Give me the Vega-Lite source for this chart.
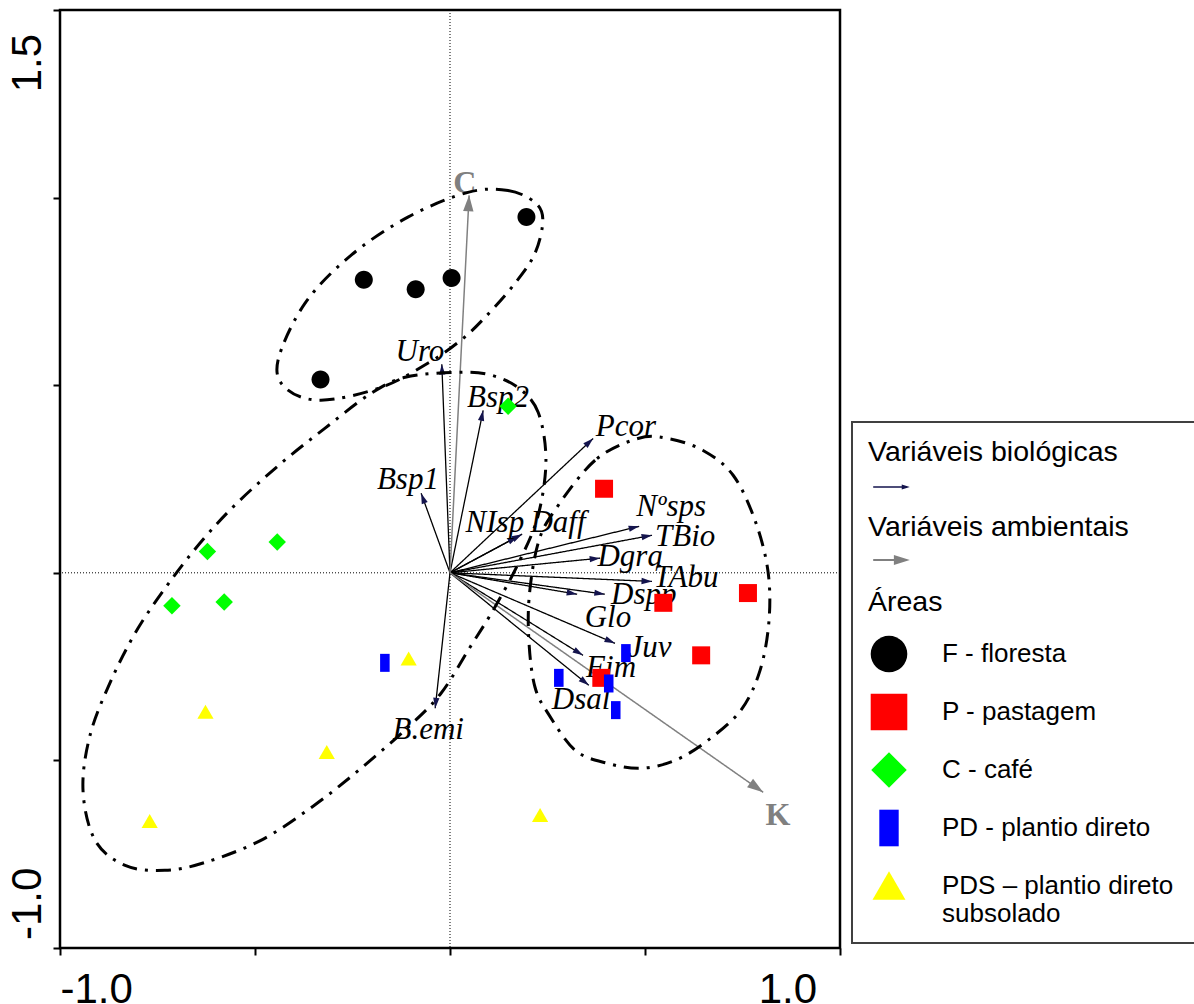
{
  "$schema": "https://vega.github.io/schema/vega-lite/v6.json",
  "width": 780,
  "height": 938,
  "autosize": {"type": "none"},
  "padding": {"left": 60, "top": 10, "right": 354, "bottom": 56},
  "background": "#ffffff",
  "config": {
    "view": {"stroke": "#000000", "strokeWidth": 2.5},
    "legend": {"strokeWidth": 2}
  },
  "resolve": {"scale": {"strokeDash": "independent"}, "legend": {"strokeDash": "independent"}},
  "datasets": {
    "areas": [
      {"area": "F - floresta", "x": 0.196, "y": 0.948},
      {"area": "F - floresta", "x": -0.221, "y": 0.781},
      {"area": "F - floresta", "x": -0.088, "y": 0.756},
      {"area": "F - floresta", "x": 0.004, "y": 0.786},
      {"area": "F - floresta", "x": -0.332, "y": 0.515},
      {"area": "P - pastagem", "x": 0.395, "y": 0.224},
      {"area": "P - pastagem", "x": 0.547, "y": -0.080},
      {"area": "P - pastagem", "x": 0.764, "y": -0.054},
      {"area": "P - pastagem", "x": 0.644, "y": -0.220},
      {"area": "P - pastagem", "x": 0.388, "y": -0.280},
      {"area": "C - café", "x": -0.622, "y": 0.057},
      {"area": "C - café", "x": -0.443, "y": 0.082},
      {"area": "C - café", "x": -0.713, "y": -0.088},
      {"area": "C - café", "x": -0.579, "y": -0.078},
      {"area": "C - café", "x": 0.149, "y": 0.444},
      {"area": "PD - plantio direto", "x": 0.451, "y": -0.214},
      {"area": "PD - plantio direto", "x": 0.279, "y": -0.280},
      {"area": "PD - plantio direto", "x": 0.407, "y": -0.295},
      {"area": "PD - plantio direto", "x": 0.425, "y": -0.366},
      {"area": "PD - plantio direto", "x": -0.167, "y": -0.240},
      {"area": "PDS – plantio direto subsolado", "x": -0.106, "y": -0.229},
      {"area": "PDS – plantio direto subsolado", "x": -0.627, "y": -0.371},
      {"area": "PDS – plantio direto subsolado", "x": -0.316, "y": -0.478},
      {"area": "PDS – plantio direto subsolado", "x": -0.770, "y": -0.662},
      {"area": "PDS – plantio direto subsolado", "x": 0.231, "y": -0.646}
    ],
    "bio": [
      {"name": "Uro", "x": -0.021, "y": 0.556, "lx": -0.077, "ly": 0.588},
      {"name": "Bsp2", "x": 0.085, "y": 0.433, "lx": 0.123, "ly": 0.465},
      {"name": "Bsp1", "x": -0.074, "y": 0.212, "lx": -0.108, "ly": 0.247},
      {"name": "NIsp", "x": 0.174, "y": 0.097, "lx": 0.115, "ly": 0.132},
      {"name": "Daff", "x": 0.185, "y": 0.103, "lx": 0.277, "ly": 0.132},
      {"name": "Pcor", "x": 0.367, "y": 0.358, "lx": 0.451, "ly": 0.388},
      {"name": "Nºsps", "x": 0.485, "y": 0.124, "lx": 0.567, "ly": 0.175},
      {"name": "TBio", "x": 0.518, "y": 0.100, "lx": 0.603, "ly": 0.095},
      {"name": "Dgra", "x": 0.385, "y": 0.039, "lx": 0.462, "ly": 0.041},
      {"name": "TAbu", "x": 0.518, "y": -0.023, "lx": 0.605, "ly": -0.015},
      {"name": "Dspp", "x": 0.397, "y": -0.057, "lx": 0.497, "ly": -0.060},
      {"name": "Glo", "x": 0.326, "y": -0.057, "lx": 0.405, "ly": -0.121},
      {"name": "Juv", "x": 0.423, "y": -0.188, "lx": 0.513, "ly": -0.201},
      {"name": "Fim", "x": 0.341, "y": -0.220, "lx": 0.413, "ly": -0.255},
      {"name": "Dsal", "x": 0.356, "y": -0.300, "lx": 0.336, "ly": -0.340},
      {"name": "B.emi", "x": -0.038, "y": -0.361, "lx": -0.056, "ly": -0.420}
    ],
    "amb": [
      {"name": "C", "x": 0.049, "y": 1.006, "lx": 0.038, "ly": 1.038},
      {"name": "K", "x": 0.803, "y": -0.585, "lx": 0.841, "ly": -0.646}
    ],
    "ellipses": [
      {"g": "F", "i": 1, "x": 0.046, "y": 1.014},
      {"g": "F", "i": 2, "x": 0.149, "y": 1.019},
      {"g": "F", "i": 3, "x": 0.218, "y": 0.987},
      {"g": "F", "i": 4, "x": 0.238, "y": 0.940},
      {"g": "F", "i": 5, "x": 0.218, "y": 0.852},
      {"g": "F", "i": 6, "x": 0.167, "y": 0.772},
      {"g": "F", "i": 7, "x": 0.090, "y": 0.681},
      {"g": "F", "i": 8, "x": 0.028, "y": 0.620},
      {"g": "F", "i": 9, "x": -0.056, "y": 0.559},
      {"g": "F", "i": 10, "x": -0.177, "y": 0.494},
      {"g": "F", "i": 11, "x": -0.331, "y": 0.460},
      {"g": "F", "i": 12, "x": -0.421, "y": 0.492},
      {"g": "F", "i": 13, "x": -0.441, "y": 0.566},
      {"g": "F", "i": 14, "x": -0.372, "y": 0.718},
      {"g": "F", "i": 15, "x": -0.254, "y": 0.846},
      {"g": "F", "i": 16, "x": -0.108, "y": 0.948},
      {"g": "C", "i": 1, "x": 0.246, "y": 0.300},
      {"g": "C", "i": 2, "x": 0.226, "y": 0.428},
      {"g": "C", "i": 3, "x": 0.174, "y": 0.494},
      {"g": "C", "i": 4, "x": 0.097, "y": 0.529},
      {"g": "C", "i": 5, "x": 0.008, "y": 0.534},
      {"g": "C", "i": 6, "x": -0.115, "y": 0.521},
      {"g": "C", "i": 7, "x": -0.203, "y": 0.478},
      {"g": "C", "i": 8, "x": -0.321, "y": 0.385},
      {"g": "C", "i": 9, "x": -0.433, "y": 0.292},
      {"g": "C", "i": 10, "x": -0.544, "y": 0.188},
      {"g": "C", "i": 11, "x": -0.628, "y": 0.095},
      {"g": "C", "i": 12, "x": -0.710, "y": -0.012},
      {"g": "C", "i": 13, "x": -0.800, "y": -0.148},
      {"g": "C", "i": 14, "x": -0.869, "y": -0.287},
      {"g": "C", "i": 15, "x": -0.923, "y": -0.433},
      {"g": "C", "i": 16, "x": -0.941, "y": -0.580},
      {"g": "C", "i": 17, "x": -0.910, "y": -0.713},
      {"g": "C", "i": 18, "x": -0.833, "y": -0.780},
      {"g": "C", "i": 19, "x": -0.731, "y": -0.793},
      {"g": "C", "i": 20, "x": -0.628, "y": -0.772},
      {"g": "C", "i": 21, "x": -0.485, "y": -0.713},
      {"g": "C", "i": 22, "x": -0.351, "y": -0.622},
      {"g": "C", "i": 23, "x": -0.228, "y": -0.521},
      {"g": "C", "i": 24, "x": -0.108, "y": -0.412},
      {"g": "C", "i": 25, "x": -0.023, "y": -0.321},
      {"g": "C", "i": 26, "x": 0.051, "y": -0.199},
      {"g": "C", "i": 27, "x": 0.115, "y": -0.092},
      {"g": "C", "i": 28, "x": 0.179, "y": 0.033},
      {"g": "C", "i": 29, "x": 0.226, "y": 0.153},
      {"g": "P", "i": 1, "x": 0.482, "y": 0.358},
      {"g": "P", "i": 2, "x": 0.372, "y": 0.300},
      {"g": "P", "i": 3, "x": 0.269, "y": 0.167},
      {"g": "P", "i": 4, "x": 0.226, "y": 0.079},
      {"g": "P", "i": 5, "x": 0.203, "y": -0.065},
      {"g": "P", "i": 6, "x": 0.203, "y": -0.193},
      {"g": "P", "i": 7, "x": 0.218, "y": -0.305},
      {"g": "P", "i": 8, "x": 0.251, "y": -0.374},
      {"g": "P", "i": 9, "x": 0.321, "y": -0.473},
      {"g": "P", "i": 10, "x": 0.405, "y": -0.508},
      {"g": "P", "i": 11, "x": 0.490, "y": -0.521},
      {"g": "P", "i": 12, "x": 0.577, "y": -0.500},
      {"g": "P", "i": 13, "x": 0.662, "y": -0.446},
      {"g": "P", "i": 14, "x": 0.746, "y": -0.366},
      {"g": "P", "i": 15, "x": 0.795, "y": -0.260},
      {"g": "P", "i": 16, "x": 0.818, "y": -0.127},
      {"g": "P", "i": 17, "x": 0.815, "y": 0.007},
      {"g": "P", "i": 18, "x": 0.782, "y": 0.140},
      {"g": "P", "i": 19, "x": 0.726, "y": 0.260},
      {"g": "P", "i": 20, "x": 0.649, "y": 0.326},
      {"g": "P", "i": 21, "x": 0.559, "y": 0.358}
    ]
  },
  "layer": [
    {
      "data": {"values": [{"v": 0}]},
      "mark": {"type": "rule", "color": "#000000", "strokeWidth": 1, "strokeDash": [1, 2]},
      "encoding": {
        "x": {
          "field": "v", "type": "quantitative", "title": null,
          "scale": {"domain": [-1, 1], "nice": false, "zero": false},
          "axis": {
            "values": [-1, -0.5, 0, 0.5, 1],
            "domain": false, "grid": false,
            "ticks": true, "tickColor": "#000000", "tickWidth": 2, "tickSize": 7,
            "labelExpr": "datum.value == -1 ? '-1.0' : datum.value == 1 ? '1.0\u00a0\u00a0\u200b' : ''",
            "labelFont": "Liberation Sans", "labelFontSize": 42, "labelColor": "#000000",
            "labelPadding": 14, "labelAngle": 0, "labelBaseline": "top",
            "labelAlign": {"condition": {"test": "datum.value < 0", "value": "left"}, "value": "right"},
            "labelFlush": false, "labelOverlap": false, "labelBound": false
          }
        }
      }
    },
    {
      "data": {"values": [{"v": 0}]},
      "mark": {"type": "rule", "color": "#000000", "strokeWidth": 1, "strokeDash": [1, 2]},
      "encoding": {
        "y": {
          "field": "v", "type": "quantitative", "title": null,
          "scale": {"domain": [-1, 1.5], "nice": false, "zero": false},
          "axis": {
            "values": [-1, -0.5, 0, 0.5, 1, 1.5],
            "domain": false, "grid": false,
            "ticks": true, "tickColor": "#000000", "tickWidth": 2, "tickSize": 7,
            "labelExpr": "datum.value == 1.5 ? '1.5\u00a0\u00a0\u200b' : datum.value == -1 ? '\u200b\u2009-1.0' : ''",
            "labelFont": "Liberation Sans", "labelFontSize": 42, "labelColor": "#000000",
            "labelPadding": 13, "labelAngle": -90, "labelBaseline": "alphabetic",
            "labelAlign": {"condition": {"test": "datum.value > 0", "value": "right"}, "value": "left"},
            "labelFlush": false, "labelOverlap": false, "labelBound": false
          }
        }
      }
    },
    {
      "data": {"name": "bio"},
      "mark": {"type": "rule", "color": "#000000", "fill": "#14144d", "strokeWidth": 1.3},
      "encoding": {
        "x": {"field": "x", "type": "quantitative", "title": null, "scale": {"domain": [-1, 1], "nice": false, "zero": false}},
        "y": {"field": "y", "type": "quantitative", "title": null, "scale": {"domain": [-1, 1.5], "nice": false, "zero": false}},
        "x2": {"datum": 0},
        "y2": {"datum": 0},
        "strokeDash": {
          "datum": "bio", "type": "nominal",
          "scale": {"domain": ["bio"], "range": [[1, 0]]},
          "legend": {
            "title": null, "orient": "none", "legendX": 812.5, "legendY": 458, "padding": 0,
            "symbolType": "M-1,-0.04L0.56,-0.04L0.56,-0.14L1,0L0.56,0.14L0.56,0.04L-1,0.04Z",
            "symbolSize": 1340, "symbolOffset": 0, "symbolFillColor": "#14144d", "symbolStrokeColor": "#000000", "symbolStrokeWidth": 1,
            "labelExpr": "''", "labelOffset": 0
          }
        }
      }
    },
    {
      "data": {"name": "amb"},
      "mark": {"type": "rule", "color": "#808080", "fill": "#808080", "strokeWidth": 1.5},
      "encoding": {
        "x": {"field": "x", "type": "quantitative", "title": null, "scale": {"domain": [-1, 1], "nice": false, "zero": false}},
        "y": {"field": "y", "type": "quantitative", "title": null, "scale": {"domain": [-1, 1.5], "nice": false, "zero": false}},
        "x2": {"datum": 0},
        "y2": {"datum": 0},
        "strokeDash": {
          "datum": "amb", "type": "nominal",
          "scale": {"domain": ["amb"], "range": [[1, 0]]},
          "legend": {
            "title": null, "orient": "none", "legendX": 812.5, "legendY": 531, "padding": 0,
            "symbolType": "M-1,-0.055L0.13,-0.055L0.13,-0.27L1,0L0.13,0.27L0.13,0.055L-1,0.055Z",
            "symbolSize": 1340, "symbolOffset": 0, "symbolFillColor": "#808080", "symbolStrokeColor": "#808080", "symbolStrokeWidth": 1,
            "labelExpr": "''", "labelOffset": 0
          }
        }
      }
    },
    {
      "data": {"name": "bio"},
      "transform": [{"calculate": "atan2(-datum.y * 375.2, datum.x * 390) * 180 / PI", "as": "ang"}],
      "mark": {"type": "point", "shape": "M0,0L-2,-0.6L-2,0.6Z", "filled": true, "color": "#14144d", "size": 110, "opacity": 1},
      "encoding": {
        "x": {"field": "x", "type": "quantitative", "title": null, "scale": {"domain": [-1, 1], "nice": false, "zero": false}},
        "y": {"field": "y", "type": "quantitative", "title": null, "scale": {"domain": [-1, 1.5], "nice": false, "zero": false}},
        "angle": {"field": "ang", "type": "quantitative", "scale": null}
      }
    },
    {
      "data": {"name": "amb"},
      "transform": [{"calculate": "atan2(-datum.y * 375.2, datum.x * 390) * 180 / PI", "as": "ang"}],
      "mark": {"type": "point", "shape": "M0,0L-2,-0.65L-2,0.65Z", "filled": true, "color": "#808080", "size": 256, "opacity": 1},
      "encoding": {
        "x": {"field": "x", "type": "quantitative", "title": null, "scale": {"domain": [-1, 1], "nice": false, "zero": false}},
        "y": {"field": "y", "type": "quantitative", "title": null, "scale": {"domain": [-1, 1.5], "nice": false, "zero": false}},
        "angle": {"field": "ang", "type": "quantitative", "scale": null}
      }
    },
    {
      "data": {"name": "bio"},
      "mark": {"type": "text", "font": "Liberation Serif", "fontStyle": "italic", "fontSize": 31, "color": "#000000", "align": "center", "baseline": "middle"},
      "encoding": {
        "x": {"field": "lx", "type": "quantitative", "title": null, "scale": {"domain": [-1, 1], "nice": false, "zero": false}},
        "y": {"field": "ly", "type": "quantitative", "title": null, "scale": {"domain": [-1, 1.5], "nice": false, "zero": false}},
        "text": {"field": "name", "type": "nominal"}
      }
    },
    {
      "data": {"name": "amb"},
      "mark": {"type": "text", "font": "Liberation Serif", "fontWeight": "bold", "fontSize": 32, "color": "#808080", "align": "center", "baseline": "middle"},
      "encoding": {
        "x": {"field": "lx", "type": "quantitative", "title": null, "scale": {"domain": [-1, 1], "nice": false, "zero": false}},
        "y": {"field": "ly", "type": "quantitative", "title": null, "scale": {"domain": [-1, 1.5], "nice": false, "zero": false}},
        "text": {"field": "name", "type": "nominal"}
      }
    },
    {
      "data": {"name": "ellipses"},
      "mark": {"type": "line", "interpolate": "cardinal-closed", "color": "#000000", "strokeWidth": 3, "strokeDash": [15, 8, 3, 8]},
      "encoding": {
        "x": {"field": "x", "type": "quantitative", "title": null, "scale": {"domain": [-1, 1], "nice": false, "zero": false}},
        "y": {"field": "y", "type": "quantitative", "title": null, "scale": {"domain": [-1, 1.5], "nice": false, "zero": false}},
        "detail": {"field": "g", "type": "nominal"},
        "order": {"field": "i", "type": "quantitative"}
      }
    },
    {
      "data": {"name": "areas"},
      "mark": {"type": "point", "filled": true, "size": 324, "opacity": 1},
      "encoding": {
        "x": {"field": "x", "type": "quantitative", "title": null, "scale": {"domain": [-1, 1], "nice": false, "zero": false}},
        "y": {"field": "y", "type": "quantitative", "title": null, "scale": {"domain": [-1, 1.5], "nice": false, "zero": false}},
        "fill": {
          "field": "area", "type": "nominal",
          "scale": {
            "domain": ["F - floresta", "P - pastagem", "C - café", "PD - plantio direto", "PDS – plantio direto subsolado"],
            "range": ["#000000", "#ff0000", "#00ff00", "#0000ff", "#ffff00"]
          },
          "legend": {
            "title": ["Variáveis biológicas", "\u200b", "Variáveis ambientais", "\u200b", "Áreas"],
            "orient": "none", "legendX": 792, "legendY": 412,
            "direction": "vertical", "columns": 1,
            "padding": 16, "strokeColor": "#404040",
            "titleFont": "Liberation Sans", "titleFontSize": 28.5, "titleFontWeight": "normal", "titleColor": "#000000", "titlePadding": 19, "titleLimit": 500, "titleAnchor": "start", "titleLineHeight": 37.5,
            "labelFont": "Liberation Sans", "labelFontSize": 26, "labelColor": "#000000", "labelLimit": 500, "labelOffset": 34.5,
            "symbolSize": 1340, "symbolOffset": 2.5, "symbolStrokeWidth": 0, "rowPadding": 21,
            "labelExpr": "datum.value == 'PDS – plantio direto subsolado' ? ['PDS – plantio direto\u00a0\u00a0\u00a0\u200b', 'subsolado'] : datum.label"
          }
        },
        "shape": {
          "field": "area", "type": "nominal",
          "scale": {
            "domain": ["F - floresta", "P - pastagem", "C - café", "PD - plantio direto", "PDS – plantio direto subsolado"],
            "range": ["M1,0A1,1,0,1,1,-1,0A1,1,0,1,1,1,0Z", "M-1,-1L1,-1L1,1L-1,1Z", "M0,-0.97L0.97,0L0,0.97L-0.97,0Z", "M-0.53,-1L0.53,-1L0.53,1L-0.53,1Z", "M0,-0.8L0.9,0.75L-0.9,0.75Z"]
          },
          "legend": {
            "title": ["Variáveis biológicas", "\u200b", "Variáveis ambientais", "\u200b", "Áreas"],
            "orient": "none", "legendX": 792, "legendY": 412,
            "direction": "vertical", "columns": 1,
            "padding": 16, "strokeColor": "#404040",
            "titleFont": "Liberation Sans", "titleFontSize": 28.5, "titleFontWeight": "normal", "titleColor": "#000000", "titlePadding": 19, "titleLimit": 500, "titleAnchor": "start", "titleLineHeight": 37.5,
            "labelFont": "Liberation Sans", "labelFontSize": 26, "labelColor": "#000000", "labelLimit": 500, "labelOffset": 34.5,
            "symbolSize": 1340, "symbolOffset": 2.5, "symbolStrokeWidth": 0, "rowPadding": 21,
            "labelExpr": "datum.value == 'PDS – plantio direto subsolado' ? ['PDS – plantio direto\u00a0\u00a0\u00a0\u200b', 'subsolado'] : datum.label"
          }
        }
      }
    }
  ]
}
